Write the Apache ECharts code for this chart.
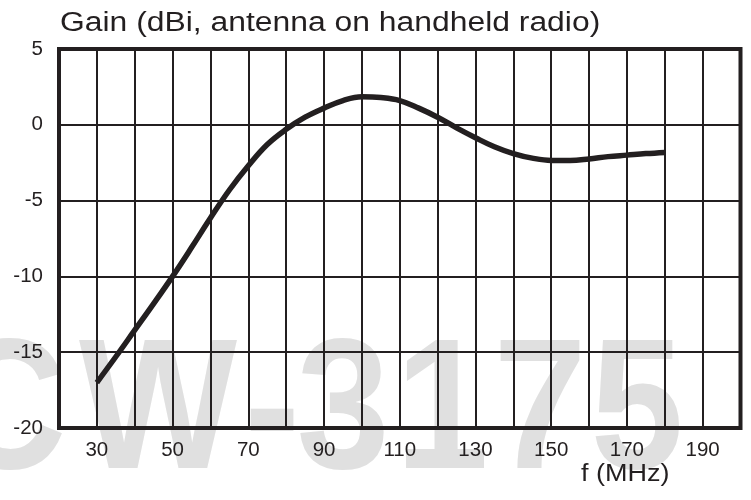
<!DOCTYPE html>
<html>
<head>
<meta charset="utf-8">
<script src="https://cdn.jsdelivr.net/npm/echarts@6/dist/echarts.min.js"></script>
<style>
  html, body { margin: 0; padding: 0; background: #ffffff; }
  #chart { width: 751px; height: 500px; }
</style>
</head>
<body>
<div id="chart"></div>
<script>
// ---- data ----
const freqMHz = [30, 35, 40, 45, 50, 55, 60, 65, 70, 75, 80, 85, 90, 95, 100, 105, 110, 115, 120, 125, 130, 135, 140, 145, 150, 155, 160, 165, 170, 175, 180];
const gainDbi = [-17.0, -15.3, -13.55, -11.8, -10.0, -8.1, -6.15, -4.3, -2.7, -1.3, -0.3, 0.5, 1.1, 1.6, 1.85, 1.8, 1.6, 1.1, 0.5, -0.2, -0.85, -1.45, -1.9, -2.2, -2.35, -2.35, -2.25, -2.1, -2.0, -1.9, -1.82];
const xLabelValues = [30, 50, 70, 90, 110, 130, 150, 170, 190];
const yTickValues = [-20, -15, -10, -5, 0, 5];
const titleText = 'Gain (dBi, antenna on handheld radio)';
const xAxisName = 'f (MHz)';
const watermarkChars = ['C', 'W', '-', '3', '1', '7', '5'];

// ---- styling / layout ----
const INK = '#231f20';
const FONT = "'Liberation Sans', Arial, Helvetica, sans-serif";
const wmX = [6, 158, 272, 343, 442, 540, 637];

const chart = echarts.init(document.getElementById('chart'), null, { renderer: 'canvas' });

const graphics = watermarkChars.map((ch, i) => ({
  type: 'text',
  x: wmX[i],
  y: 417,
  scaleX: 0.9,
  z: -10,
  silent: true,
  style: {
    text: ch,
    font: 'bold 186px ' + FONT,
    fill: '#e0e0e0',
    align: 'center',
    verticalAlign: 'middle'
  }
}));

graphics.push({
  type: 'text',
  x: 60,
  y: 24,
  scaleX: 1.18,
  z: 10,
  style: {
    text: titleText,
    font: '27px ' + FONT,
    fill: INK,
    align: 'left',
    verticalAlign: 'middle'
  }
});
graphics.push({
  type: 'text',
  x: 581,
  y: 475,
  scaleX: 1.15,
  z: 10,
  style: {
    text: xAxisName,
    font: '23.5px ' + FONT,
    fill: INK,
    align: 'left',
    verticalAlign: 'middle'
  }
});

const option = {
  animation: false,
  backgroundColor: '#ffffff',
  graphic: graphics,
  grid: {
    left: 59, right: 10.5, top: 49, bottom: 72,
    show: true,
    borderColor: INK,
    borderWidth: 4,
    backgroundColor: 'transparent'
  },
  xAxis: {
    type: 'value',
    min: 20, max: 200, interval: 10,
    axisLine: { show: false },
    axisTick: { show: false },
    splitLine: { show: true, lineStyle: { color: INK, width: 2 } },
    axisLabel: {
      formatter: v => (xLabelValues.includes(v) ? String(v) : ''),
      fontSize: 20.5,
      fontFamily: FONT,
      color: INK,
      margin: 12
    }
  },
  yAxis: {
    type: 'value',
    min: yTickValues[0], max: yTickValues[yTickValues.length - 1], interval: 5,
    axisLine: { show: false },
    axisTick: { show: false },
    splitLine: { show: true, lineStyle: { color: INK, width: 2 } },
    axisLabel: {
      fontSize: 20.5,
      fontFamily: FONT,
      color: INK,
      margin: 16
    }
  },
  series: [{
    type: 'line',
    data: freqMHz.map((f, i) => [f, gainDbi[i]]),
    smooth: 0.4,
    showSymbol: false,
    symbol: 'none',
    lineStyle: { color: INK, width: 5.5, cap: 'butt' },
    z: 5
  }]
};
chart.setOption(option);
</script>
</body>
</html>
